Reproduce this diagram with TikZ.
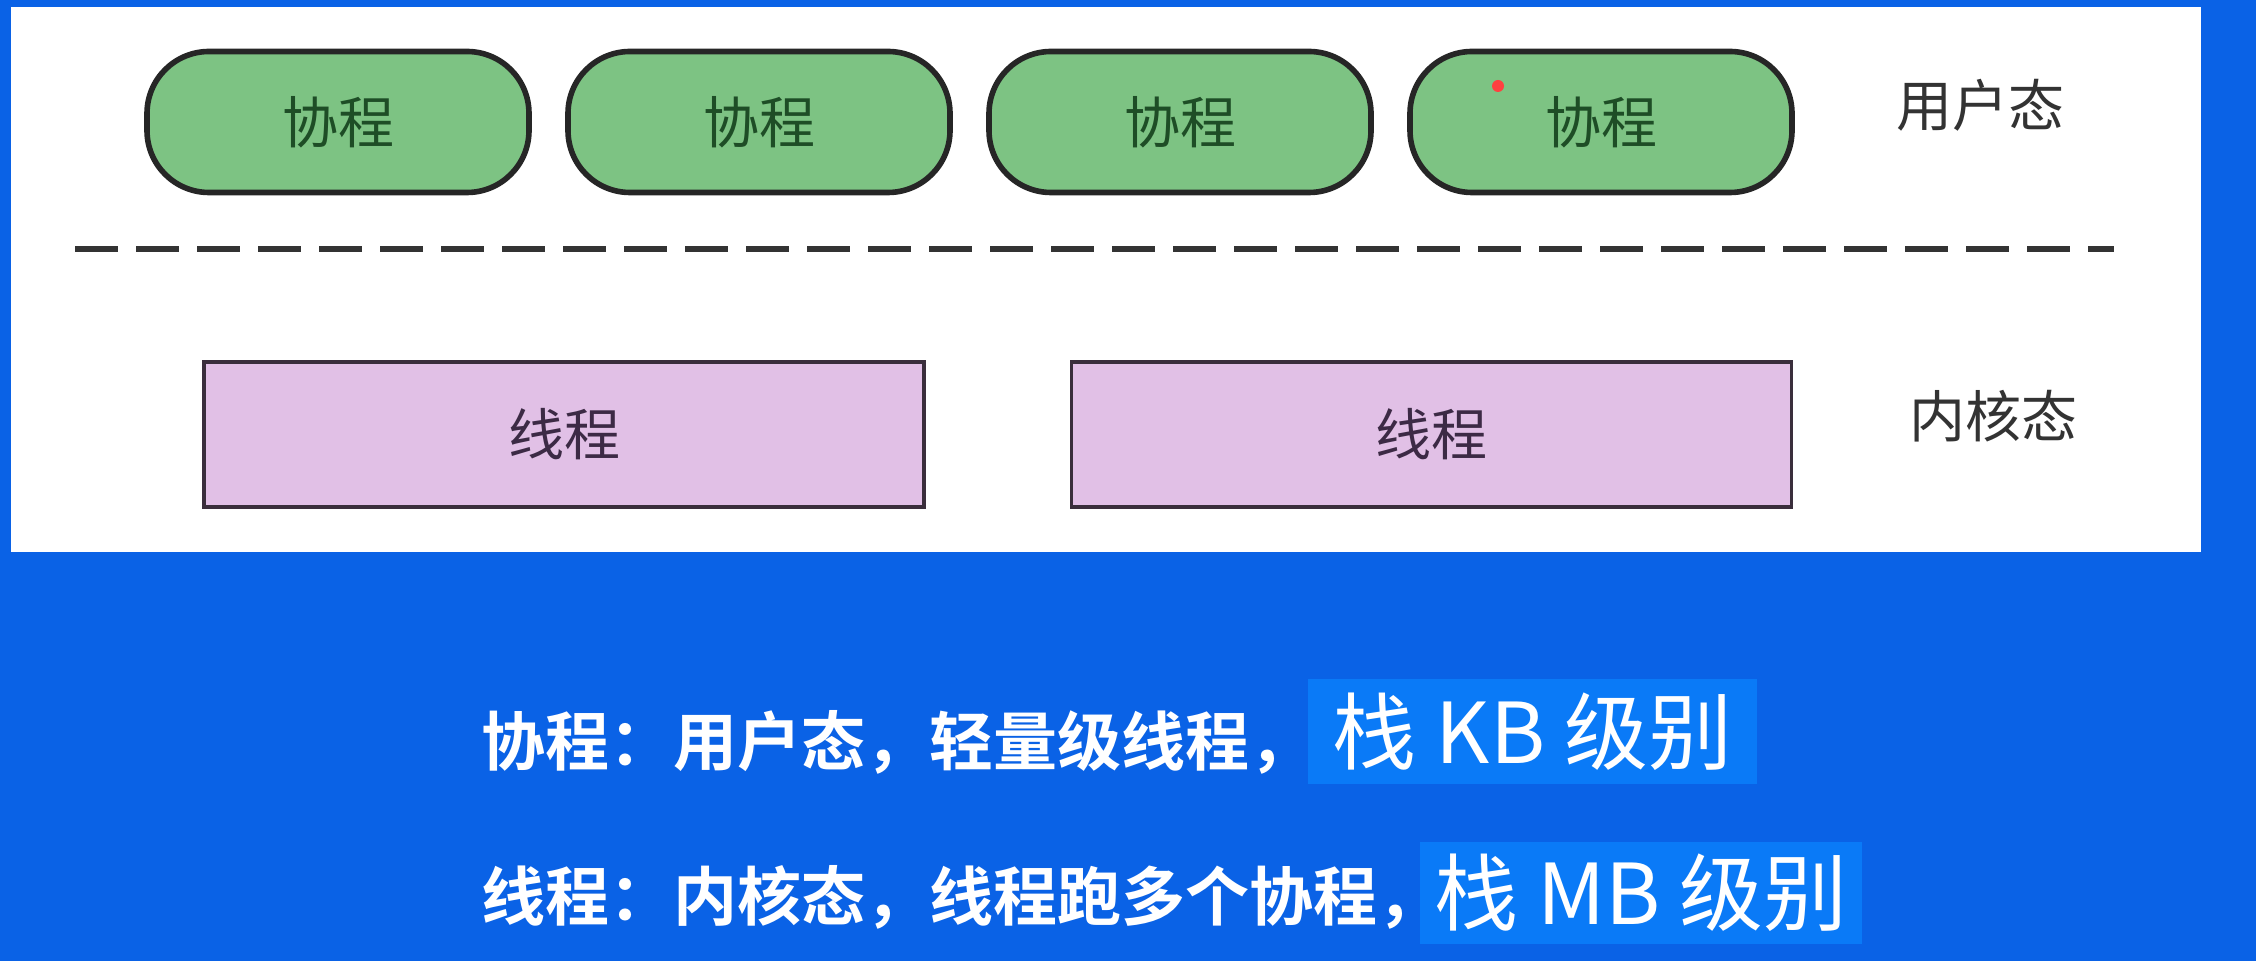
\documentclass[tikz,border=0pt]{standalone}
\usepackage{fontspec}
\setmainfont{Noto Sans CJK SC}[BoldFont={Noto Sans CJK SC Bold}]
\usepackage{tikz}
\usetikzlibrary{positioning}
\definecolor{bgblue}{HTML}{0A62E6}
\definecolor{hlblue}{HTML}{0A7AF7}
\definecolor{cofill}{HTML}{7DC383}
\definecolor{cotext}{HTML}{1E4D26}
\definecolor{thfill}{HTML}{E1C0E6}
\definecolor{thtext}{HTML}{3C2A45}
\definecolor{thdraw}{HTML}{3A2E3C}

\begin{document}
\begin{tikzpicture}
      [x=0.5pt,y=-0.5pt,
        coro/.style={draw=black!85,line width=2.8pt,fill=cofill,rounded corners=31pt,
          minimum width=191pt,minimum height=70.5pt,text=cotext,font=\fontsize{28}{30}\selectfont},
        thrd/.style={draw=thdraw,line width=1.6pt,fill=thfill,
          minimum width=360pt,minimum height=72.5pt,text=thtext,font=\fontsize{28}{30}\selectfont},
          mode/.style={text=black!80,font=\fontsize{28}{30}\selectfont},
        note/.style={text=white,anchor=west,inner sep=0pt,font=\bfseries\fontsize{32}{34}\selectfont},
          hilite/.style={fill=hlblue,text=white,font=\fontsize{42}{44}\selectfont}]
  \useasboundingbox (0,0) rectangle (2256,961);
  \fill[bgblue] (0,0) rectangle (2256,961);
  \fill[white] (11,7) rectangle (2201,552);
  % user space
  \foreach \i in {1,...,4}
    \node[coro] (co\i) at (338+421*\i-421,122) {协程};
  \node[mode] (user) at (1980,105) {用户态};
  \fill[red!75!white] (1498,86) circle (3pt);
  % boundary
  \coordinate (dl) at (75,249);
  \coordinate (dr) at (2114,249);
  \draw[black!80,line width=3pt,dash pattern=on 21.5pt off 9pt] (dl) -- (dr);
  % kernel space
  \node[thrd] (th1) at (564,434.5) {线程};
  \node[thrd] (th2) at (1431.5,434.5) {线程};
  \node[mode] (kernel) at (1993,416) {内核态};
  % notes
  \node[note] (line1) at (481,742) {协程：用户态，轻量级线程，};
  \node[hilite,minimum width=224.5pt,minimum height=52.5pt] (hl1) at (1532.5,731.5) {栈 KB 级别};
  \node[note] (line2) at (481,897) {线程：内核态，线程跑多个协程，};
  \node[hilite,minimum width=221pt,minimum height=51pt] (hl2) at (1641,893) {栈 MB 级别};
 \end{tikzpicture}
\end{document}
